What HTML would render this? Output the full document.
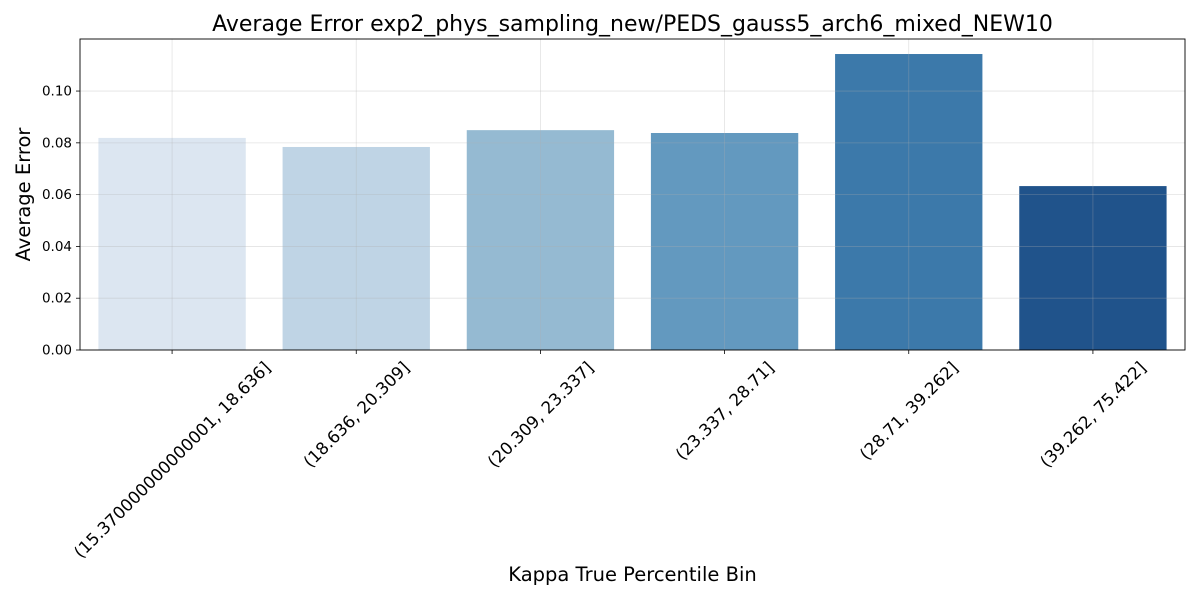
<!DOCTYPE html>
<html><head><meta charset="utf-8"><style>
body{margin:0;background:#fff;font-family:"Liberation Sans","DejaVu Sans",sans-serif}
</style></head><body>
<svg id="chart" width="1200" height="600" xmlns="http://www.w3.org/2000/svg" font-family="DejaVu Sans, Liberation Sans, sans-serif"></svg>
<script>
const categories=["(15.370000000000001, 18.636]","(18.636, 20.309]","(20.309, 23.337]","(23.337, 28.71]","(28.71, 39.262]","(39.262, 75.422]"];
const values=[0.0819,0.0784,0.0849,0.0838,0.1143,0.0633];
const yTicks=[0,0.02,0.04,0.06,0.08,0.10];
const yTickLabels=["0.00","0.02","0.04","0.06","0.08","0.10"];
const colors=["#dce6f1","#bfd4e5","#95bad2","#6399bf","#3c79aa","#20538b"];
const L=80,R=1185,T=39,B=350,yMax=0.1201;
const svg=document.getElementById('chart');
const NS="http://www.w3.org/2000/svg";
function y(v){return B-(v/yMax)*(B-T);}
const step=(R-L)/categories.length;
function x(i){return L+step*(i+0.5);}
function mk(tag,attrs,parent){const e=document.createElementNS(NS,tag);for(const k in attrs)e.setAttribute(k,attrs[k]);(parent||svg).appendChild(e);return e;}
values.forEach((v,i)=>{
 const r=mk('rect',{x:x(i)-step*0.4,y:y(v),width:step*0.8,height:B-y(v),fill:colors[i]});
 
 
});
yTicks.forEach((t,i)=>{
 const g=mk('line',{x1:L,x2:R,y1:y(t),y2:y(t),stroke:'#b0b0b0','stroke-opacity':0.35,'stroke-width':0.8});
 
 
 mk('line',{x1:L-4,x2:L,y1:y(t),y2:y(t),stroke:'#000','stroke-width':0.8});
 const tx=mk('text',{x:L-8,y:y(t)+4.5,'text-anchor':'end','font-size':13.5,fill:'#000'});
 tx.textContent=yTickLabels[i];
 
 
});
const fsX=16.8;
categories.forEach((c,i)=>{
 const g=mk('line',{x1:x(i),x2:x(i),y1:T,y2:B,stroke:'#b0b0b0','stroke-opacity':0.35,'stroke-width':0.8});
 
 
 mk('line',{x1:x(i),x2:x(i),y1:B,y2:B+4,stroke:'#000','stroke-width':0.8});
 const tx=mk('text',{x:0,y:fsX*0.35,'text-anchor':'middle','font-size':fsX,fill:'#000'});
 tx.textContent=c;
 
 
 const w=tx.getComputedTextLength();
 const half=(w+fsX*1.1)*0.7071/2;
 tx.setAttribute('transform',`translate(${x(i)},${B+8+half}) rotate(-45)`);
});
const fr=mk('rect',{x:L,y:T,width:R-L,height:B-T,fill:'none',stroke:'#000','stroke-width':0.9});


const ti=mk('text',{x:(L+R)/2,y:31,'text-anchor':'middle','font-size':22});
ti.textContent="Average Error exp2_phys_sampling_new/PEDS_gauss5_arch6_mixed_NEW10";


const xl=mk('text',{x:(L+R)/2,y:581,'text-anchor':'middle','font-size':19.5});
xl.textContent="Kappa True Percentile Bin";


const yl=mk('text',{x:30,y:(T+B)/2,'text-anchor':'middle','font-size':19.5,transform:`rotate(-90 30 ${(T+B)/2})`});
yl.textContent="Average Error";


</script>
</body></html>
